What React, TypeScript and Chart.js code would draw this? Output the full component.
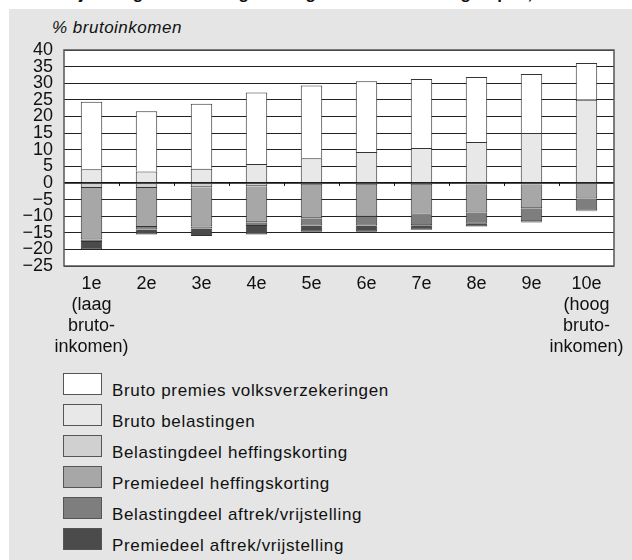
import React, { useEffect, useRef } from "react";
import { Chart, registerables } from "chart.js";

Chart.register(...registerables);

const TITLE = "Vrijstellingen en heffingskortingen naar inkomensgroepen, 2005";
const Y_TITLE = "% brutoinkomen";

const categories: (string | string[])[] = [
  ["1e", "(laag", "bruto-", "inkomen)"],
  "2e",
  "3e",
  "4e",
  "5e",
  "6e",
  "7e",
  "8e",
  "9e",
  ["10e", "(hoog", "bruto-", "inkomen)"],
];

const brutoPremies = [20.3, 18.2, 19.5, 21.5, 21.9, 21.3, 20.8, 19.6, 17.8, 11.1];
const brutoBelastingen = [4.1, 3.4, 4.3, 5.7, 7.4, 9.3, 10.5, 12.3, 15.0, 25.0];
const belastingdeelHeffingskorting = [-1.5, -1.5, -1.3, -1.0, -0.6, -0.6, -0.6, -0.5, -0.5, -0.2];
const premiedeelHeffingskorting = [-15.5, -11.8, -11.8, -10.8, -10.0, -9.5, -9.0, -8.4, -7.1, -4.5];
const belastingdeelAftrek = [-0.8, -0.7, -0.6, -1.2, -2.2, -2.7, -3.1, -3.4, -3.9, -3.6];
const premiedeelAftrek = [-2.2, -1.5, -2.3, -2.5, -1.9, -1.9, -1.4, -0.8, -0.4, -0.2];

const yMin = -25;
const yMax = 40;
const yStep = 5;

const seriesNames = [
  "Bruto premies volksverzekeringen",
  "Bruto belastingen",
  "Belastingdeel heffingskorting",
  "Premiedeel heffingskorting",
  "Belastingdeel aftrek/vrijstelling",
  "Premiedeel aftrek/vrijstelling",
];
const seriesColors = ["#ffffff", "#e8e8e8", "#d0d0d0", "#a7a7a7", "#7e7e7e", "#4b4b4b"];

const FONT = "'Liberation Sans', Arial, Helvetica, sans-serif";

const chartDecor = {
  id: "chartDecor",
  beforeDraw(chart: any) {
    const { ctx, chartArea } = chart;
    ctx.save();
    ctx.fillStyle = "#ffffff";
    ctx.fillRect(chartArea.left, chartArea.top, chartArea.right - chartArea.left, chartArea.bottom - chartArea.top);
    ctx.restore();
  },
  afterDraw(chart: any) {
    const { ctx, chartArea, scales } = chart;
    const x = scales.x;
    const y = scales.y;
    ctx.save();
    const zy = y.getPixelForValue(0);
    ctx.strokeStyle = "#111";
    ctx.lineWidth = 1.5;
    ctx.beginPath();
    ctx.moveTo(chartArea.left, zy);
    ctx.lineTo(chartArea.right, zy);
    ctx.stroke();
    ctx.lineWidth = 1;
    for (let i = 1; i < categories.length; i++) {
      const bx = Math.round((x.getPixelForValue(i - 1) + x.getPixelForValue(i)) / 2) + 0.5;
      ctx.beginPath();
      ctx.moveTo(bx, zy);
      ctx.lineTo(bx, zy + 3);
      ctx.stroke();
    }
    ctx.strokeStyle = "#555";
    ctx.lineWidth = 1.5;
    ctx.strokeRect(chartArea.left, chartArea.top, chartArea.right - chartArea.left, chartArea.bottom - chartArea.top);
    ctx.restore();
  },
};

function BarChart() {
  const ref = useRef<HTMLCanvasElement | null>(null);
  useEffect(() => {
    if (!ref.current) return;
    const common = { borderColor: "#333", borderWidth: 1, barPercentage: 0.78, categoryPercentage: 0.5 };
    const chart = new Chart(ref.current, {
      type: "bar",
      data: {
        labels: categories,
        datasets: [
          { label: seriesNames[1], data: brutoBelastingen, backgroundColor: seriesColors[1], ...common },
          { label: seriesNames[0], data: brutoPremies, backgroundColor: seriesColors[0], ...common },
          { label: seriesNames[2], data: belastingdeelHeffingskorting, backgroundColor: seriesColors[2], ...common },
          { label: seriesNames[3], data: premiedeelHeffingskorting, backgroundColor: seriesColors[3], ...common },
          { label: seriesNames[4], data: belastingdeelAftrek, backgroundColor: seriesColors[4], ...common },
          { label: seriesNames[5], data: premiedeelAftrek, backgroundColor: seriesColors[5], ...common },
        ],
      },
      options: {
        responsive: false,
        animation: false,
        layout: { padding: { left: 0, right: 10, top: 16, bottom: 4 } },
        plugins: { legend: { display: false }, tooltip: { enabled: false }, title: { display: false } },
        scales: {
          x: {
            stacked: true,
            grid: { display: false, drawTicks: false },
            border: { display: false },
            ticks: {
              color: "#111",
              font: { family: FONT, size: 18, lineHeight: 1.167 },
              padding: 8,
              maxRotation: 0,
              autoSkip: false,
            },
            afterFit(scale: any) {
              scale.height = 100;
            },
          },
          y: {
            stacked: true,
            min: yMin,
            max: yMax,
            grid: { color: "#222", lineWidth: 1, drawTicks: false },
            border: { display: false },
            ticks: {
              stepSize: yStep,
              autoSkip: false,
              color: "#111",
              font: { family: FONT, size: 18, lineHeight: 1 },
              padding: 11,
              callback: (v: any) => (Number(v) < 0 ? "\u2212" + Math.abs(Number(v)) : String(v)),
            },
            afterFit(scale: any) {
              scale.width = 64;
            },
          },
        },
      },
      plugins: [chartDecor],
    });
    return () => chart.destroy();
  }, []);
  return <canvas ref={ref} width={632} height={340} style={{ position: "absolute", left: 0, top: 30, width: 632, height: 340 }} />;
}

export default function App() {
  const legendTop = 372.7;
  const legendStep = 31.1;
  return (
    <div
      style={{
        position: "absolute",
        left: 0,
        top: 0,
        width: 632,
        height: 560,
        background: "#ffffff",
        overflow: "hidden",
        fontFamily: FONT,
        color: "#111",
      }}
    >
      <div style={{ position: "absolute", left: 9, top: 9, right: 0, bottom: 0, background: "#e4e5e4" }} />
      <div
        style={{
          position: "absolute",
          left: 0,
          width: 632,
          top: -15,
          textAlign: "center",
          fontWeight: "bold",
          fontSize: 17,
          lineHeight: "17px",
          whiteSpace: "nowrap",
        }}
      >
        {TITLE}
      </div>
      <div
        style={{
          position: "absolute",
          left: 52,
          top: 18,
          fontStyle: "italic",
          fontSize: 17,
          lineHeight: "20px",
          whiteSpace: "nowrap",
          letterSpacing: "0.5px",
        }}
      >
        {Y_TITLE}
      </div>
      <BarChart />
      {seriesNames.map((name, i) => (
        <div key={name} style={{ position: "absolute", left: 0, top: legendTop + i * legendStep, width: 632, height: 30 }}>
          <div
            style={{
              position: "absolute",
              left: 63,
              top: 0,
              width: 39,
              height: 22,
              boxSizing: "border-box",
              border: "1.5px solid #555",
              background: seriesColors[i],
            }}
          />
          <div
            style={{
              position: "absolute",
              left: 112,
              top: 8,
              fontSize: 17,
              lineHeight: "20px",
              whiteSpace: "nowrap",
              letterSpacing: "0.65px",
            }}
          >
            {name}
          </div>
        </div>
      ))}
    </div>
  );
}
